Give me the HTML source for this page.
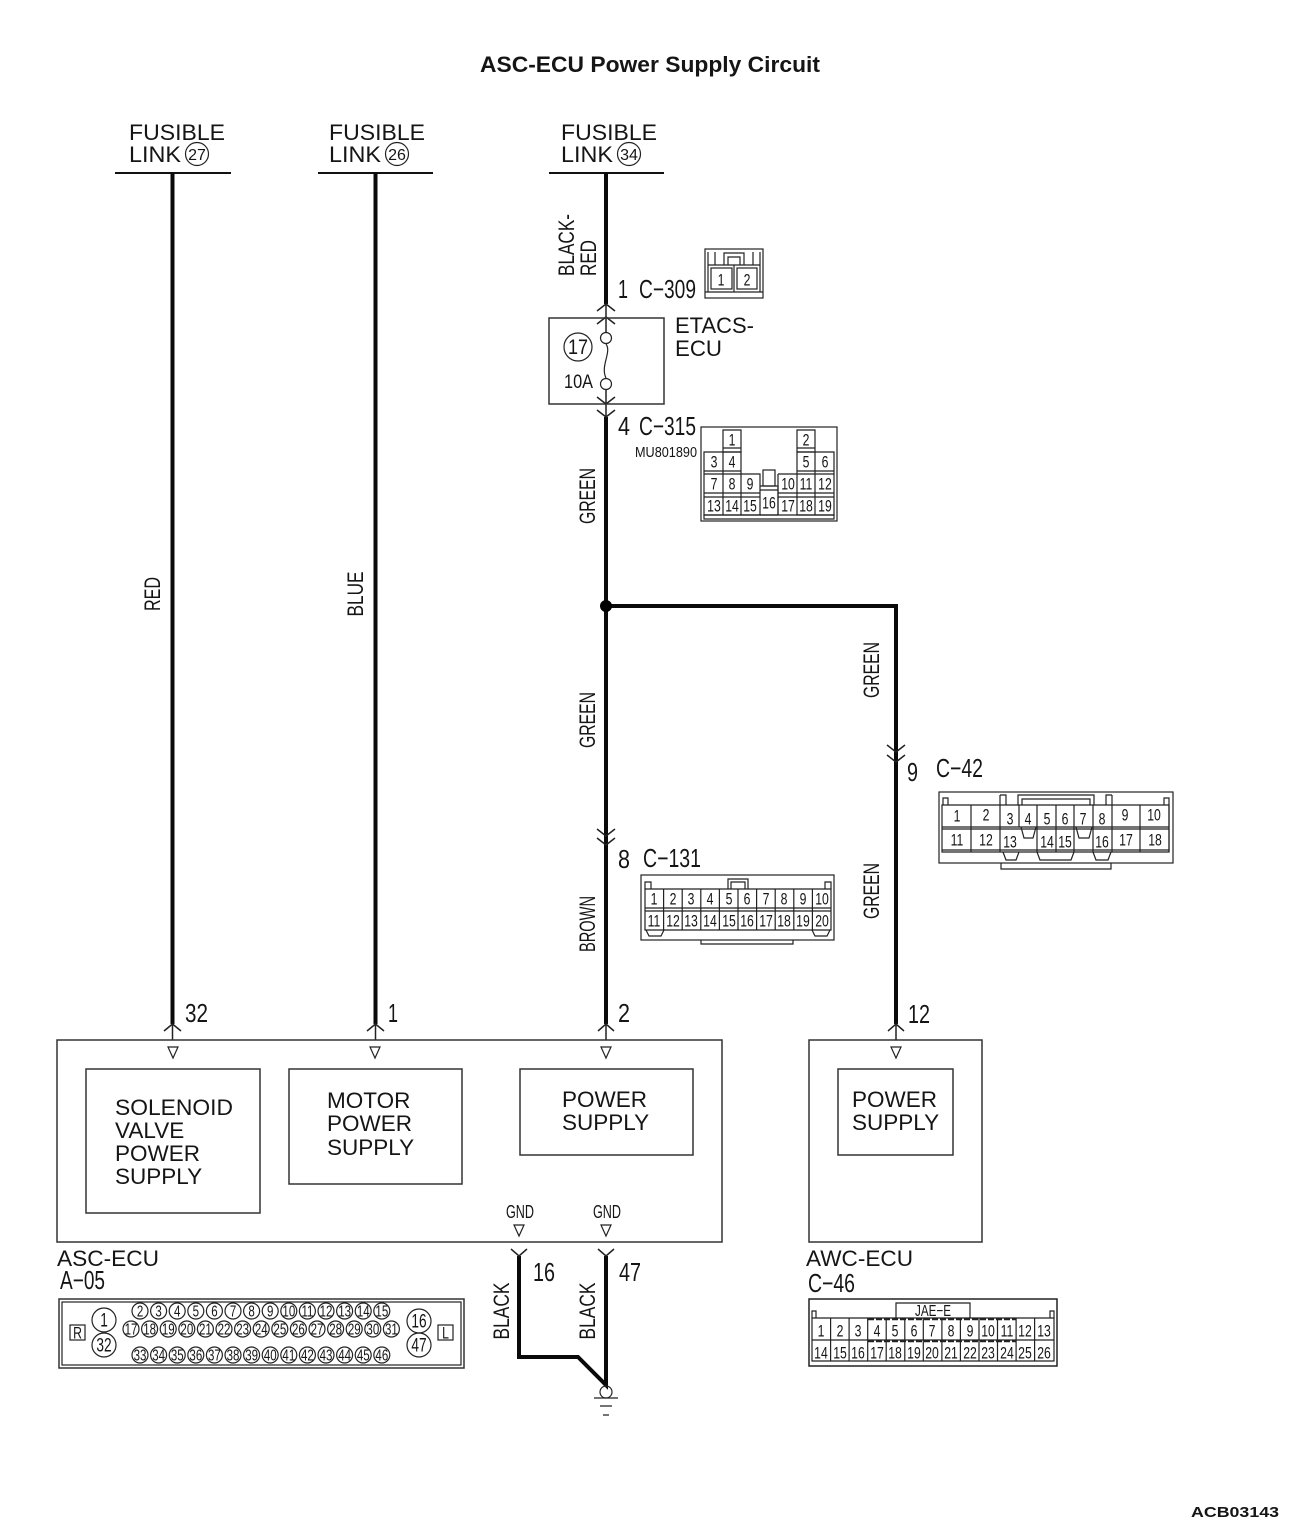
<!DOCTYPE html>
<html><head><meta charset="utf-8"><style>
html,body{margin:0;padding:0;background:#fff}
svg{display:block}
text{font-family:"Liberation Sans",sans-serif;fill:#151515}
.q text,text.q{transform-box:fill-box;transform-origin:center;transform:translateY(.7px) scaleX(.72)}
.l{font-size:22.5px}
.c{text-anchor:middle}
.b{fill:none;stroke:#333;stroke-width:1.5}
.t{fill:none;stroke:#222;stroke-width:1.2}
.w{fill:none;stroke:#0a0a0a;stroke-width:4}
.h{fill:none;stroke:#111;stroke-width:2}
.s{font-size:17px}
.m{font-size:16px}
.r{font-size:22px}
.g{font-size:26px}
</style></head><body>
<svg width="1300" height="1531" viewBox="0 0 1300 1531" xmlns="http://www.w3.org/2000/svg">
<rect width="1300" height="1531" fill="#fff"/>
<text x="650" y="72" class="c" font-size="22.5" font-weight="bold" textLength="340" lengthAdjust="spacingAndGlyphs">ASC-ECU Power Supply Circuit</text>

<!-- fusible links -->
<text x="129" y="140" class="l" textLength="96" lengthAdjust="spacingAndGlyphs">FUSIBLE</text>
<text x="129" y="162" class="l" textLength="52" lengthAdjust="spacingAndGlyphs">LINK</text>
<circle cx="197" cy="154" r="11.5" class="t"/><text x="197" y="160" class="c" font-size="16">27</text>
<text x="329" y="140" class="l" textLength="96" lengthAdjust="spacingAndGlyphs">FUSIBLE</text>
<text x="329" y="162" class="l" textLength="52" lengthAdjust="spacingAndGlyphs">LINK</text>
<circle cx="397" cy="154" r="11.5" class="t"/><text x="397" y="160" class="c" font-size="16">26</text>
<text x="561" y="140" class="l" textLength="96" lengthAdjust="spacingAndGlyphs">FUSIBLE</text>
<text x="561" y="162" class="l" textLength="52" lengthAdjust="spacingAndGlyphs">LINK</text>
<circle cx="629" cy="154" r="11.5" class="t"/><text x="629" y="160" class="c" font-size="16">34</text>
<path d="M115 173H231M318 173H433M549 173H664" class="h"/>

<!-- wires -->
<path d="M172.500 173V1024M375.500 173V1024M606 173V304M606 417V1024M606 606H896V1024" class="w"/>
<circle cx="606" cy="606" r="6" fill="#000"/>
<path d="M519 1256V1357H578L606 1385V1256" class="w"/>

<!-- chevrons -->
<g class="t" style="stroke-width:1.5">
<path d="M597 311L606 304L615 311M597 324L606 317L615 324M606 304V332"/>
<path d="M597 397L606 404L615 397M597 410L606 417L615 410M606 390V417"/>
<path d="M597 829L606 836L615 829M597 838L606 845L615 838"/>
<path d="M887 745L896 752L905 745M887 755L896 762L905 755"/>
<path d="M164 1031L172.500 1024L181 1031M172.500 1024V1040"/>
<path d="M367 1031L375.500 1024L384 1031M375.500 1024V1040"/>
<path d="M598 1031L606 1024L614 1031M606 1024V1040"/>
<path d="M888 1031L896 1024L904 1031M896 1024V1040"/>
<path d="M511 1249L519 1256L527 1249"/>
<path d="M598 1249L606 1256L614 1249"/>
</g>

<!-- rotated wire labels -->
<text transform="translate(160 594) rotate(-90)" class="c r" textLength="34" lengthAdjust="spacingAndGlyphs">RED</text>
<text transform="translate(363 594) rotate(-90)" class="c r" textLength="45" lengthAdjust="spacingAndGlyphs">BLUE</text>
<text transform="translate(574 276) rotate(-90)" class="r" textLength="62" lengthAdjust="spacingAndGlyphs">BLACK-</text>
<text transform="translate(596 276) rotate(-90)" class="r" textLength="36" lengthAdjust="spacingAndGlyphs">RED</text>
<text transform="translate(595 496) rotate(-90)" class="c r" textLength="56" lengthAdjust="spacingAndGlyphs">GREEN</text>
<text transform="translate(595 720) rotate(-90)" class="c r" textLength="56" lengthAdjust="spacingAndGlyphs">GREEN</text>
<text transform="translate(595 924) rotate(-90)" class="c r" textLength="56" lengthAdjust="spacingAndGlyphs">BROWN</text>
<text transform="translate(879 670) rotate(-90)" class="c r" textLength="56" lengthAdjust="spacingAndGlyphs">GREEN</text>
<text transform="translate(879 891) rotate(-90)" class="c r" textLength="56" lengthAdjust="spacingAndGlyphs">GREEN</text>
<text transform="translate(509 1311) rotate(-90)" class="c r" textLength="57" lengthAdjust="spacingAndGlyphs">BLACK</text>
<text transform="translate(595 1311) rotate(-90)" class="c r" textLength="57" lengthAdjust="spacingAndGlyphs">BLACK</text>

<!-- pin and connector labels -->
<g class="g">
<text x="618" y="298" textLength="10" lengthAdjust="spacingAndGlyphs">1</text><text x="639" y="298" textLength="57" lengthAdjust="spacingAndGlyphs">C−309</text>
<text x="618" y="435" textLength="12" lengthAdjust="spacingAndGlyphs">4</text><text x="639" y="435" textLength="57" lengthAdjust="spacingAndGlyphs">C−315</text>
<text x="618" y="868" textLength="12" lengthAdjust="spacingAndGlyphs">8</text><text x="643" y="867" textLength="58" lengthAdjust="spacingAndGlyphs">C−131</text>
<text x="907" y="781" textLength="11" lengthAdjust="spacingAndGlyphs">9</text><text x="936" y="777" textLength="47" lengthAdjust="spacingAndGlyphs">C−42</text>
<text x="185" y="1022" textLength="23" lengthAdjust="spacingAndGlyphs">32</text><text x="388" y="1022" textLength="10" lengthAdjust="spacingAndGlyphs">1</text><text x="618" y="1022" textLength="12" lengthAdjust="spacingAndGlyphs">2</text><text x="908" y="1023" textLength="22" lengthAdjust="spacingAndGlyphs">12</text>
<text x="533" y="1281" textLength="22" lengthAdjust="spacingAndGlyphs">16</text><text x="619" y="1281" textLength="22" lengthAdjust="spacingAndGlyphs">47</text>
<text x="60" y="1289" textLength="45" lengthAdjust="spacingAndGlyphs">A−05</text>
<text x="808" y="1292" textLength="47" lengthAdjust="spacingAndGlyphs">C−46</text>
</g>
<text x="635" y="457" font-size="14.500" textLength="62" lengthAdjust="spacingAndGlyphs">MU801890</text>

<!-- ETACS box -->
<rect x="549" y="318" width="115" height="86" class="b"/>
<circle cx="578" cy="347" r="14" class="t"/><text x="578" y="354" class="c" font-size="21" textLength="20" lengthAdjust="spacingAndGlyphs">17</text>
<text x="564" y="388" font-size="19" textLength="29" lengthAdjust="spacingAndGlyphs">10A</text>
<circle cx="606" cy="338" r="5.500" fill="#fff" class="t"/><circle cx="606" cy="384" r="5.500" fill="#fff" class="t"/>
<path d="M606 344C612 352 600 366 606 378" class="t"/>
<text x="675" y="333" class="l" textLength="79" lengthAdjust="spacingAndGlyphs">ETACS-</text>
<text x="675" y="356" class="l" textLength="47" lengthAdjust="spacingAndGlyphs">ECU</text>

<!-- C-309 -->
<g class="t">
<rect x="705" y="249" width="58" height="49"/>
<path d="M705 292H763M708 252V265M715 252V265M724 265V253H744V265M728 265V257H740V265M753 252V265M760 252V265M708 265H760M708 265V292M760 265V292M734 265V292"/>
<rect x="711" y="268" width="21" height="21"/><rect x="737" y="268" width="20" height="21"/>
</g>
<g class="c s q"><text x="721" y="285">1</text><text x="747" y="285">2</text></g>

<!-- C-315 -->
<g class="t">
<rect x="701" y="427" width="136" height="94"/>
<path d="M723 430H741V452H723ZM797 430H815V452H797ZM723 448H741M797 448H815"/>
<path d="M704 452H741V515H704ZM797 452H834V515H797Z"/>
<path d="M704 471H741M797 471H834M704 474H760V515H741M778 474H834M778 474V515M704 493H760M778 493H834M704 497H760M778 497H834"/>
<path d="M723 452V515M815 452V515M760 486H778V515H760M760 490H778"/>
<rect x="763" y="470" width="12" height="16"/>
<path d="M704 515H834V519H704Z"/>
</g>
<g class="c s q">
<text x="732" y="445">1</text><text x="806" y="445">2</text><text x="714" y="467">3</text><text x="732" y="467">4</text><text x="806" y="467">5</text><text x="825" y="467">6</text>
<text x="714" y="489">7</text><text x="732" y="489">8</text><text x="750" y="489">9</text><text x="788" y="489">10</text><text x="806" y="489">11</text><text x="825" y="489">12</text>
<text x="714" y="511">13</text><text x="732" y="511">14</text><text x="750" y="511">15</text><text x="769" y="508">16</text><text x="788" y="511">17</text><text x="806" y="511">18</text><text x="825" y="511">19</text>
</g>

<!-- C-42 -->
<g class="t">
<rect x="939" y="792" width="234" height="71"/>
<path d="M1001 863V869H1111V863"/>
<path d="M942 805H1169V852H942ZM942 827H1169M942 829H1169M942 850H1169"/>
<path d="M971 805V852M1000 795V852M1019 805V827M1037 805V852M1056 805V852M1074 805V852M1093 805V852M1112 795V852M1140 805V852M1169 805V852"/>
<path d="M1000 795H1006V805M1106 805V795H1112M1018 805V795H1094V805M1022 805V799H1090V805M943 805V798H948V805M1164 805V798H1169V805"/>
<path d="M1003 852L1006 860H1016L1019 852M1037 852L1040 860H1071L1074 852M1093 852L1096 860H1108L1111 852M1021 827L1024 838H1033L1036 827M1076 827L1079 838H1089L1092 827"/>
</g>
<g class="c s q">
<text x="957" y="821">1</text><text x="986" y="820">2</text><text x="1010" y="824">3</text><text x="1028" y="824">4</text><text x="1047" y="824">5</text><text x="1065" y="824">6</text><text x="1083" y="824">7</text><text x="1102" y="824">8</text><text x="1125" y="820">9</text><text x="1154" y="820">10</text>
<text x="957" y="845">11</text><text x="986" y="845">12</text><text x="1010" y="847">13</text><text x="1047" y="847">14</text><text x="1065" y="847">15</text><text x="1102" y="847">16</text><text x="1126" y="845">17</text><text x="1155" y="845">18</text>
</g>

<!-- C-131 -->
<g class="t">
<rect x="641" y="875" width="193" height="65"/>
<path d="M701 940V944H793V940"/>
<path d="M645 889H831V930H645ZM645 908H831M645 911H831"/>
<path d="M663.600 889V930M682.200 889V930M700.800 889V930M719.400 889V930M738 889V930M756.600 889V930M775.200 889V930M793.800 889V930M812.400 889V930"/>
<path d="M728 889V879H748V889M731 889V882H745V889M645 889V882H651V889M825 889V882H831V889"/>
<path d="M646 930L649 936H661L664 930M812 930L815 936H827L830 930"/>
</g>
<g class="c s q">
<text x="654" y="904">1</text><text x="673" y="904">2</text><text x="691" y="904">3</text><text x="710" y="904">4</text><text x="729" y="904">5</text><text x="747" y="904">6</text><text x="766" y="904">7</text><text x="784" y="904">8</text><text x="803" y="904">9</text><text x="822" y="904">10</text>
<text x="654" y="926">11</text><text x="673" y="926">12</text><text x="691" y="926">13</text><text x="710" y="926">14</text><text x="729" y="926">15</text><text x="747" y="926">16</text><text x="766" y="926">17</text><text x="784" y="926">18</text><text x="803" y="926">19</text><text x="822" y="926">20</text>
</g>

<!-- ECU boxes -->
<rect x="57" y="1040" width="665" height="202" class="b"/>
<rect x="809" y="1040" width="173" height="202" class="b"/>
<rect x="86" y="1069" width="174" height="144" class="b"/>
<rect x="289" y="1069" width="173" height="115" class="b"/>
<rect x="520" y="1069" width="173" height="86" class="b"/>
<rect x="838" y="1069" width="115" height="86" class="b"/>
<path d="M168 1047H178L173 1058ZM370 1047H380L375 1058ZM601 1047H611L606 1058ZM891 1047H901L896 1058ZM514 1225H524L519 1236ZM601 1225H611L606 1236Z" fill="#fff" stroke="#222" stroke-width="1.200"/>
<g class="l">
<text x="115" y="1115" textLength="118" lengthAdjust="spacingAndGlyphs">SOLENOID</text><text x="115" y="1138">VALVE</text><text x="115" y="1161">POWER</text><text x="115" y="1184">SUPPLY</text>
<text x="327" y="1108">MOTOR</text><text x="327" y="1131">POWER</text><text x="327" y="1155">SUPPLY</text>
<text x="562" y="1107">POWER</text><text x="562" y="1130">SUPPLY</text>
<text x="852" y="1107">POWER</text><text x="852" y="1130">SUPPLY</text>
<text x="57" y="1266" textLength="102" lengthAdjust="spacingAndGlyphs">ASC-ECU</text>
<text x="806" y="1266" textLength="107" lengthAdjust="spacingAndGlyphs">AWC-ECU</text>
</g>
<text x="520" y="1218" class="c" font-size="18" textLength="28" lengthAdjust="spacingAndGlyphs">GND</text>
<text x="607" y="1218" class="c" font-size="18" textLength="28" lengthAdjust="spacingAndGlyphs">GND</text>

<!-- ground -->
<circle cx="606" cy="1392" r="6" fill="#fff" class="t"/>
<path d="M594 1398H618M600 1406H612M603 1415H609" class="t"/>

<!-- A-05 -->
<rect x="59" y="1299" width="405" height="69" class="b"/>
<rect x="62" y="1302" width="399" height="63" class="t"/>
<rect x="70" y="1325" width="15" height="15" class="t"/><text x="77.500" y="1338" class="c s q">R</text>
<rect x="438" y="1325" width="15" height="15" class="t"/><text x="445.500" y="1338" class="c s q">L</text>
<g class="t">
<circle cx="104" cy="1320" r="12"/><circle cx="104" cy="1345" r="12"/><circle cx="419" cy="1321" r="12"/><circle cx="419" cy="1345" r="12"/>
<circle cx="140" cy="1311" r="8"/><circle cx="158.600" cy="1311" r="8"/><circle cx="177.200" cy="1311" r="8"/><circle cx="195.800" cy="1311" r="8"/><circle cx="214.400" cy="1311" r="8"/><circle cx="233" cy="1311" r="8"/><circle cx="251.600" cy="1311" r="8"/><circle cx="270.200" cy="1311" r="8"/><circle cx="288.800" cy="1311" r="8"/><circle cx="307.400" cy="1311" r="8"/><circle cx="326" cy="1311" r="8"/><circle cx="344.600" cy="1311" r="8"/><circle cx="363.200" cy="1311" r="8"/><circle cx="381.800" cy="1311" r="8"/>
<circle cx="131" cy="1329" r="8"/><circle cx="149.600" cy="1329" r="8"/><circle cx="168.200" cy="1329" r="8"/><circle cx="186.800" cy="1329" r="8"/><circle cx="205.400" cy="1329" r="8"/><circle cx="224" cy="1329" r="8"/><circle cx="242.600" cy="1329" r="8"/><circle cx="261.200" cy="1329" r="8"/><circle cx="279.800" cy="1329" r="8"/><circle cx="298.400" cy="1329" r="8"/><circle cx="317" cy="1329" r="8"/><circle cx="335.600" cy="1329" r="8"/><circle cx="354.200" cy="1329" r="8"/><circle cx="372.800" cy="1329" r="8"/><circle cx="391.400" cy="1329" r="8"/>
<circle cx="140" cy="1355" r="8"/><circle cx="158.600" cy="1355" r="8"/><circle cx="177.200" cy="1355" r="8"/><circle cx="195.800" cy="1355" r="8"/><circle cx="214.400" cy="1355" r="8"/><circle cx="233" cy="1355" r="8"/><circle cx="251.600" cy="1355" r="8"/><circle cx="270.200" cy="1355" r="8"/><circle cx="288.800" cy="1355" r="8"/><circle cx="307.400" cy="1355" r="8"/><circle cx="326" cy="1355" r="8"/><circle cx="344.600" cy="1355" r="8"/><circle cx="363.200" cy="1355" r="8"/><circle cx="381.800" cy="1355" r="8"/>
</g>
<g class="c m q">
<text x="104" y="1326" font-size="19">1</text><text x="104" y="1351" font-size="19">32</text><text x="419" y="1327" font-size="19">16</text><text x="419" y="1351" font-size="19">47</text>
<text x="140" y="1316">2</text><text x="158.600" y="1316">3</text><text x="177.200" y="1316">4</text><text x="195.800" y="1316">5</text><text x="214.400" y="1316">6</text><text x="233" y="1316">7</text><text x="251.600" y="1316">8</text><text x="270.200" y="1316">9</text><text x="288.800" y="1316">10</text><text x="307.400" y="1316">11</text><text x="326" y="1316">12</text><text x="344.600" y="1316">13</text><text x="363.200" y="1316">14</text><text x="381.800" y="1316">15</text>
<text x="131" y="1334">17</text><text x="149.600" y="1334">18</text><text x="168.200" y="1334">19</text><text x="186.800" y="1334">20</text><text x="205.400" y="1334">21</text><text x="224" y="1334">22</text><text x="242.600" y="1334">23</text><text x="261.200" y="1334">24</text><text x="279.800" y="1334">25</text><text x="298.400" y="1334">26</text><text x="317" y="1334">27</text><text x="335.600" y="1334">28</text><text x="354.200" y="1334">29</text><text x="372.800" y="1334">30</text><text x="391.400" y="1334">31</text>
<text x="140" y="1360">33</text><text x="158.600" y="1360">34</text><text x="177.200" y="1360">35</text><text x="195.800" y="1360">36</text><text x="214.400" y="1360">37</text><text x="233" y="1360">38</text><text x="251.600" y="1360">39</text><text x="270.200" y="1360">40</text><text x="288.800" y="1360">41</text><text x="307.400" y="1360">42</text><text x="326" y="1360">43</text><text x="344.600" y="1360">44</text><text x="363.200" y="1360">45</text><text x="381.800" y="1360">46</text>
</g>

<!-- C-46 -->
<g class="t">
<rect x="809" y="1299" width="248" height="67" style="stroke-width:1.500"/>
<path d="M896 1318V1303H970V1318"/>
<path d="M812 1318H1054V1361H812ZM812 1340H1054"/>
<path d="M830.600 1318V1361M849.100 1318V1361M867.700 1318V1361M886.200 1318V1361M904.800 1318V1361M923.300 1318V1361M941.900 1318V1361M960.400 1318V1361M979 1318V1361M997.500 1318V1361M1016.100 1318V1361M1034.600 1318V1361"/>
<path d="M812 1318V1311H816V1318M1050 1318V1311H1054V1318"/>
</g>
<path d="M868 1319H1016M868 1341H1016" stroke="#222" stroke-width="2.500" fill="none" stroke-dasharray="6 2"/>
<text x="933" y="1316" class="c" font-size="16" textLength="36" lengthAdjust="spacingAndGlyphs">JAE−E</text>
<g class="c s q">
<text x="821" y="1336">1</text><text x="840" y="1336">2</text><text x="858" y="1336">3</text><text x="877" y="1336">4</text><text x="895" y="1336">5</text><text x="914" y="1336">6</text><text x="932" y="1336">7</text><text x="951" y="1336">8</text><text x="970" y="1336">9</text><text x="988" y="1336">10</text><text x="1007" y="1336">11</text><text x="1025" y="1336">12</text><text x="1044" y="1336">13</text>
<text x="821" y="1358">14</text><text x="840" y="1358">15</text><text x="858" y="1358">16</text><text x="877" y="1358">17</text><text x="895" y="1358">18</text><text x="914" y="1358">19</text><text x="932" y="1358">20</text><text x="951" y="1358">21</text><text x="970" y="1358">22</text><text x="988" y="1358">23</text><text x="1007" y="1358">24</text><text x="1025" y="1358">25</text><text x="1044" y="1358">26</text>
</g>

<text x="1191" y="1517" font-size="15" font-weight="bold" textLength="88" lengthAdjust="spacingAndGlyphs">ACB03143</text>
</svg>
</body></html>
